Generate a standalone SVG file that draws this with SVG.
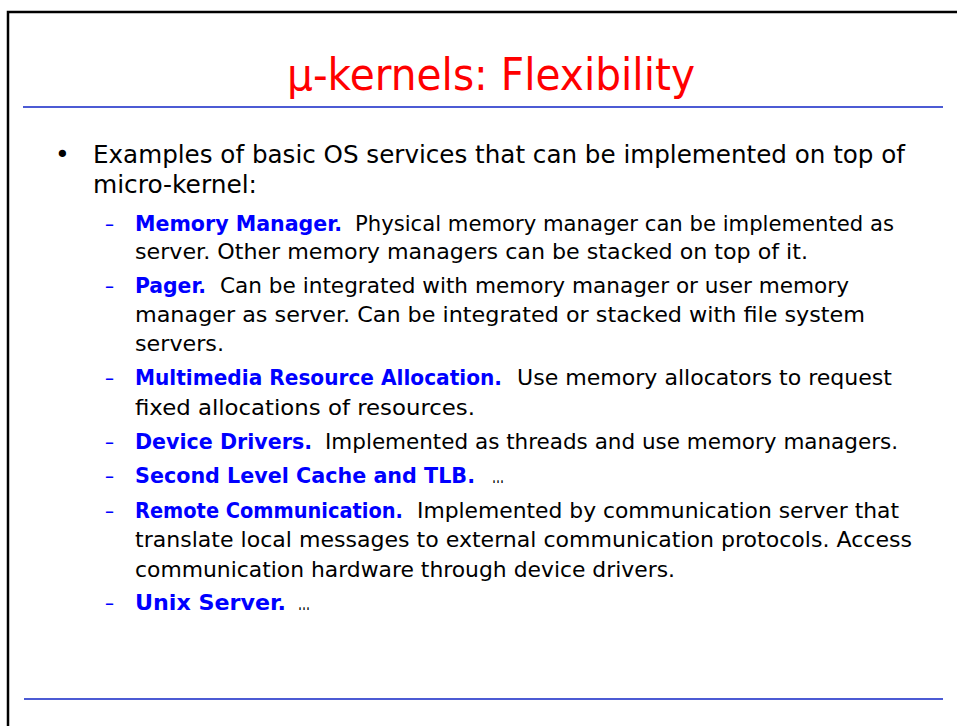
<svg xmlns="http://www.w3.org/2000/svg" width="957" height="726" viewBox="0 0 957 726">
  <style>
    text { font-family: "Comic Sans MS", "DejaVu Sans", sans-serif; }
    .title { font-size: 44px; fill: #ff0000; }
    .main { font-size: 25px; fill: #000000; }
    .sub { font-size: 22px; fill: #000000; }
    .key { font-family: "DejaVu Sans Condensed", "DejaVu Sans", sans-serif; font-stretch: condensed; font-size: 22px; font-weight: bold; fill: #0000ff; }
    .dash { font-size: 22px; fill: #0000ff; }
    .rule { stroke: #4c5bd4; stroke-width: 2; }
  </style>

  <!-- slide background and frame -->
  <rect width="957" height="726" fill="#ffffff"/>
  <path d="M8,726 V12 H957" fill="none" stroke="#000000" stroke-width="2.5"/>

  <!-- horizontal rules under the title and above the footer -->
  <line class="rule" x1="23" y1="107" x2="943" y2="107"/>
  <line class="rule" x1="24" y1="699" x2="943" y2="699"/>

  <g id="title">
    <text class="title" x="287" y="90" textLength="408" lengthAdjust="spacingAndGlyphs">μ-kernels: Flexibility</text>
  </g>

  <g id="intro">
    <text class="main" x="55" y="163">•</text>
    <text class="main" x="93" y="163" textLength="812" lengthAdjust="spacingAndGlyphs">Examples of basic OS services that can be implemented on top of</text>
    <text class="main" x="93" y="193" textLength="164" lengthAdjust="spacingAndGlyphs">micro-kernel:</text>
  </g>

  <g id="memory-manager">
    <text class="dash" x="105" y="231" textLength="9" lengthAdjust="spacingAndGlyphs">–</text>
    <text class="key" x="135" y="231" textLength="207" lengthAdjust="spacingAndGlyphs">Memory Manager.</text>
    <text class="sub" x="355" y="231" textLength="539" lengthAdjust="spacingAndGlyphs">Physical memory manager can be implemented as</text>
    <text class="sub" x="135" y="259" textLength="673" lengthAdjust="spacingAndGlyphs">server. Other memory managers can be stacked on top of it.</text>
  </g>

  <g id="pager">
    <text class="dash" x="105" y="293" textLength="9" lengthAdjust="spacingAndGlyphs">–</text>
    <text class="key" x="135" y="293" textLength="71" lengthAdjust="spacingAndGlyphs">Pager.</text>
    <text class="sub" x="220" y="293" textLength="629" lengthAdjust="spacingAndGlyphs">Can be integrated with memory manager or user memory</text>
    <text class="sub" x="135" y="322" textLength="730" lengthAdjust="spacingAndGlyphs">manager as server. Can be integrated or stacked with file system</text>
    <text class="sub" x="135" y="351" textLength="89" lengthAdjust="spacingAndGlyphs">servers.</text>
  </g>

  <g id="multimedia">
    <text class="dash" x="105" y="385" textLength="9" lengthAdjust="spacingAndGlyphs">–</text>
    <text class="key" x="135" y="385" textLength="367" lengthAdjust="spacingAndGlyphs">Multimedia Resource Allocation.</text>
    <text class="sub" x="517" y="385" textLength="375" lengthAdjust="spacingAndGlyphs">Use memory allocators to request</text>
    <text class="sub" x="135" y="415" textLength="340" lengthAdjust="spacingAndGlyphs">fixed allocations of resources.</text>
  </g>

  <g id="device-drivers">
    <text class="dash" x="105" y="449" textLength="9" lengthAdjust="spacingAndGlyphs">–</text>
    <text class="key" x="135" y="449" textLength="177" lengthAdjust="spacingAndGlyphs">Device Drivers.</text>
    <text class="sub" x="325" y="449" textLength="573" lengthAdjust="spacingAndGlyphs">Implemented as threads and use memory managers.</text>
  </g>

  <g id="cache-tlb">
    <text class="dash" x="105" y="483" textLength="9" lengthAdjust="spacingAndGlyphs">–</text>
    <text class="key" x="135" y="483" textLength="340" lengthAdjust="spacingAndGlyphs">Second Level Cache and TLB.</text>
    <text class="sub" x="492" y="483" textLength="12" lengthAdjust="spacingAndGlyphs">…</text>
  </g>

  <g id="remote-communication">
    <text class="dash" x="105" y="518" textLength="9" lengthAdjust="spacingAndGlyphs">–</text>
    <text class="key" x="135" y="518" textLength="268" lengthAdjust="spacingAndGlyphs">Remote Communication.</text>
    <text class="sub" x="417" y="518" textLength="482" lengthAdjust="spacingAndGlyphs">Implemented by communication server that</text>
    <text class="sub" x="135" y="547" textLength="777" lengthAdjust="spacingAndGlyphs">translate local messages to external communication protocols. Access</text>
    <text class="sub" x="135" y="577" textLength="540" lengthAdjust="spacingAndGlyphs">communication hardware through device drivers.</text>
  </g>

  <g id="unix-server">
    <text class="dash" x="105" y="610" textLength="9" lengthAdjust="spacingAndGlyphs">–</text>
    <text class="key" x="135" y="610" textLength="151" lengthAdjust="spacingAndGlyphs">Unix Server.</text>
    <text class="sub" x="298" y="610" textLength="12" lengthAdjust="spacingAndGlyphs">…</text>
  </g>
</svg>
